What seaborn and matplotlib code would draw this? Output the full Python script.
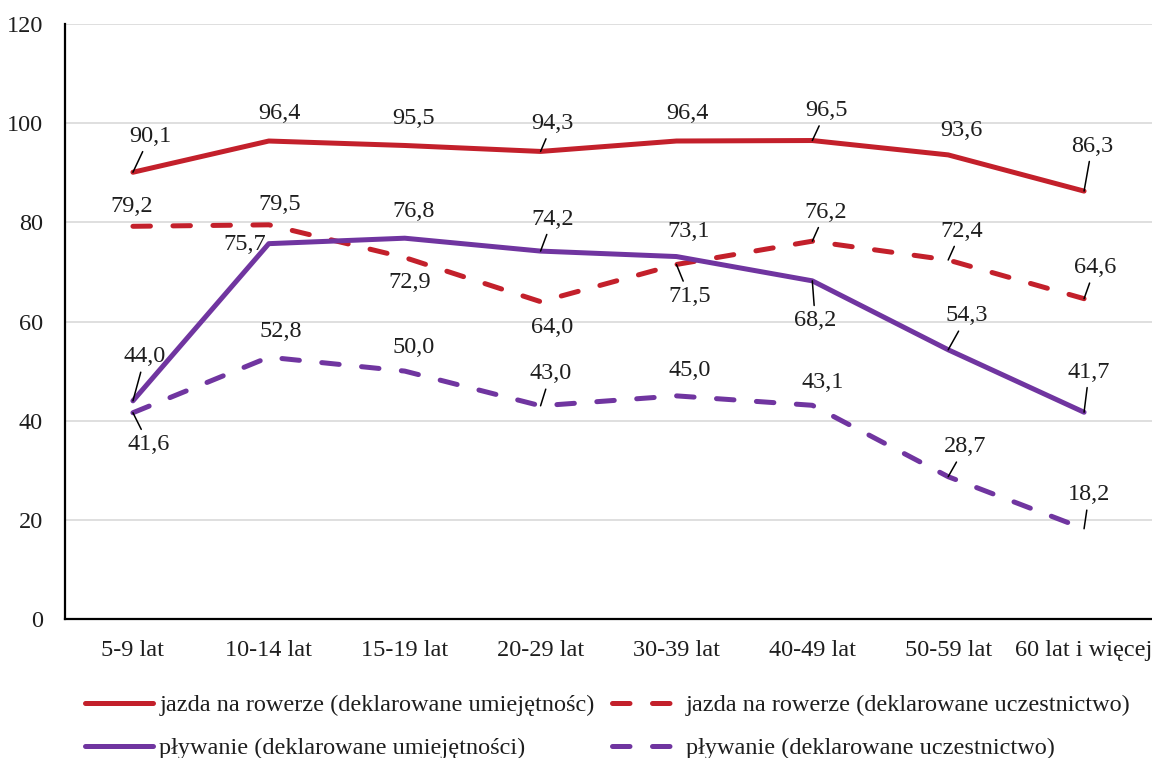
import matplotlib
matplotlib.use("Agg")
import matplotlib.pyplot as plt
import pandas as pd
import seaborn as sns

# data
age_groups = ["5-9 lat", "10-14 lat", "15-19 lat", "20-29 lat",
              "30-39 lat", "40-49 lat", "50-59 lat", "60 lat i więcej"]
rower_umiejetnosc = [90.1, 96.4, 95.5, 94.3, 96.4, 96.5, 93.6, 86.3]
rower_uczestnictwo = [79.2, 79.5, 72.9, 64.0, 71.5, 76.2, 72.4, 64.6]
plywanie_umiejetnosc = [44.0, 75.7, 76.8, 74.2, 73.1, 68.2, 54.3, 41.7]
plywanie_uczestnictwo = [41.6, 52.8, 50.0, 43.0, 45.0, 43.1, 28.7, 18.2]

series_names = [
    "jazda na rowerze (deklarowane umiejętnośc)",
    "jazda na rowerze (deklarowane uczestnictwo)",
    "pływanie (deklarowane umiejętności)",
    "pływanie (deklarowane uczestnictwo)",
]
series_values = [rower_umiejetnosc, rower_uczestnictwo,
                 plywanie_umiejetnosc, plywanie_uczestnictwo]

RED = "#C3202B"
PURPLE = "#7035A0"
colors = [RED, RED, PURPLE, PURPLE]
dashed = [False, True, False, True]

# label placement (pixel offsets from the point, y downwards) and leader lines
label_offsets = [
    [(17, -36), (11, -28), (9, -27), (12, -28), (11, -28), (14, -30), (13, -24), (8, -45)],
    [(-1, -20), (11, -20), (5, 25), (12, 26), (13, 32), (13, -29), (13, -29), (11, -31)],
    [(12, -44), (-24, 1), (9, -27), (12, -32), (12, -25), (3, 40), (19, -34), (5, -40)],
    [(16, 32), (12, -26), (9, -24), (10, -32), (13, -25), (10, -23), (17, -30), (5, -34)],
]
leaders = [
    [1, 0, 0, 1, 0, 1, 0, 1],
    [0, 0, 0, 0, 1, 1, 1, 1],
    [1, 0, 0, 1, 0, 1, 1, 1],
    [1, 0, 0, 1, 0, 0, 1, 1],
]

sns.set_style("white")
plt.rcParams["font.family"] = ["Liberation Serif", "DejaVu Serif"]
TEXT = "#1e1e1e"
FS = 17.5

fig = plt.figure(figsize=(11.52, 7.58), dpi=100)
ax = fig.add_axes([65 / 1152, 139 / 758, 1087 / 1152, 595 / 758])

x_pos = list(range(len(age_groups)))
for name, vals, col, dsh in zip(series_names, series_values, colors, dashed):
    df = pd.DataFrame({"x": x_pos, "y": vals})
    ls = (0, (3.5, 4.5)) if dsh else "-"
    sns.lineplot(data=df, x="x", y="y", ax=ax, color=col, linewidth=3.6,
                 linestyle=ls, label=name, errorbar=None,
                 dash_capstyle="round", solid_capstyle="round",
                 solid_joinstyle="round")

for vals, offs, leads in zip(series_values, label_offsets, leaders):
    for i, (v, (dx, dy), ld) in enumerate(zip(vals, offs, leads)):
        arrow = None
        if ld:
            arrow = dict(arrowstyle="-", color="black", lw=1.1,
                         shrinkA=0, shrinkB=0)
        ax.annotate(f"{v:.1f}".replace(".", ","), xy=(i, v),
                    xytext=(dx, -dy), textcoords="offset pixels",
                    ha="center", va="center", fontsize=FS, color=TEXT,
                    bbox=dict(boxstyle="square,pad=0.2", fc="none", ec="none"),
                    arrowprops=arrow, zorder=5)

ax.set_xlim(-0.5, len(age_groups) - 0.5)
ax.set_ylim(0, 120)
ax.set_yticks(range(0, 121, 20))
ax.set_xticks(x_pos)
ax.set_xticklabels(age_groups)
ax.set_xlabel("")
ax.set_ylabel("")
ax.tick_params(axis="y", length=0, pad=16, labelsize=FS, labelcolor=TEXT)
ax.tick_params(axis="x", length=0, pad=15, labelsize=FS, labelcolor=TEXT)
ax.grid(axis="y", color="#D9D9D9", linewidth=1.2)
ax.set_axisbelow(True)
for side in ["top", "right"]:
    ax.spines[side].set_visible(False)
for side in ["left", "bottom"]:
    ax.spines[side].set_color("black")
    ax.spines[side].set_linewidth(1.6)

h, l = ax.get_legend_handles_labels()
order = [0, 2, 1, 3]
ax.legend([h[k] for k in order], [l[k] for k in order], ncol=2,
          loc="upper center", bbox_to_anchor=(608 / 1152, 0.100),
          bbox_transform=fig.transFigure, frameon=False, fontsize=FS,
          handlelength=2.8, handletextpad=0.25, columnspacing=0.7,
          labelspacing=0.85, borderpad=0, labelcolor=TEXT)

fig.savefig("out.png", dpi=100)
